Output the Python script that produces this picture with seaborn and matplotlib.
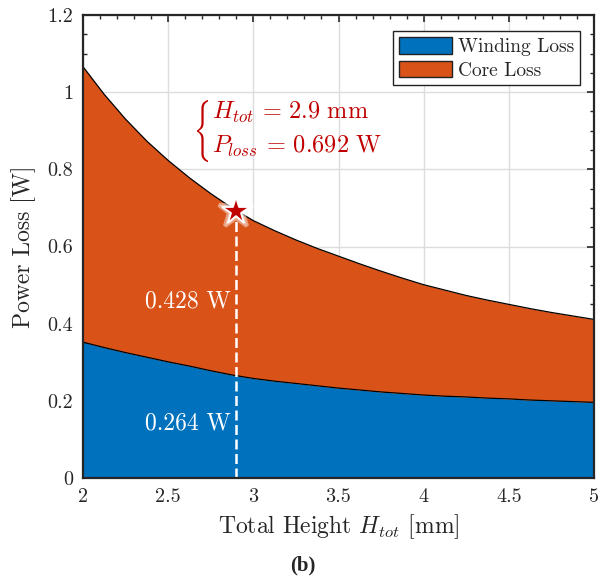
import numpy as np
import pandas as pd
import matplotlib
matplotlib.use("Agg")
import matplotlib.pyplot as plt
import matplotlib.transforms as mtransforms
import seaborn as sns
from matplotlib.ticker import MultipleLocator
from matplotlib.patches import Patch, PathPatch
from matplotlib.textpath import TextPath
from matplotlib.font_manager import FontProperties

# ---- data ----
height_mm = [2.0, 2.125, 2.25, 2.375, 2.5, 2.625, 2.75, 2.875, 3.0, 3.125, 3.25, 3.375,
             3.5, 3.625, 3.75, 3.875, 4.0, 4.125, 4.25, 4.375, 4.5, 4.625, 4.75, 4.875, 5.0]
total_loss = [1.066, 0.994, 0.930, 0.873, 0.823, 0.778, 0.737, 0.700, 0.667, 0.641, 0.617, 0.595,
              0.575, 0.555, 0.536, 0.518, 0.501, 0.487, 0.473, 0.461, 0.450, 0.439, 0.429, 0.420, 0.411]
winding_loss = [0.352, 0.338, 0.325, 0.313, 0.301, 0.290, 0.278, 0.267, 0.258, 0.251, 0.245, 0.239,
                0.233, 0.228, 0.223, 0.219, 0.215, 0.212, 0.210, 0.207, 0.205, 0.202, 0.200, 0.198, 0.196]
series_names = ["Winding Loss", "Core Loss"]
sel_height = 2.9
sel_total = 0.692
sel_winding = 0.264
sel_core = 0.428
xtick_vals = [2, 2.5, 3, 3.5, 4, 4.5, 5]
xtick_labels = ["2", "2.5", "3", "3.5", "4", "4.5", "5"]
ytick_vals = [0, 0.2, 0.4, 0.6, 0.8, 1.0, 1.2]
ytick_labels = ["0", "0.2", "0.4", "0.6", "0.8", "1", "1.2"]

df = pd.DataFrame({"H": height_mm, "total": total_loss, "winding": winding_loss})
df["core"] = df["total"] - df["winding"]

BLUE = "#0072BD"
ORANGE = "#D95319"
RED = "#C00000"
DARK = "#262626"

sns.set_theme(style="ticks")
plt.rcParams.update({
    "font.family": "serif",
    "font.serif": ["cmr10"],
    "mathtext.fontset": "cm",
    "axes.formatter.use_mathtext": True,
    "axes.unicode_minus": False,
})

W, H = 613, 584
fig = plt.figure(figsize=(W / 100, H / 100), dpi=100)
ax = fig.add_axes([83 / W, 1 - 478 / H, (594 - 83) / W, (478 - 15) / H])

ax.fill_between(df["H"], 0, df["winding"], color=BLUE, lw=0, zorder=2)
ax.fill_between(df["H"], df["winding"], df["winding"] + df["core"], color=ORANGE, lw=0, zorder=2)
sns.lineplot(x="H", y="winding", data=df, ax=ax, color="black", lw=0.9, zorder=3)
sns.lineplot(x="H", y="total", data=df, ax=ax, color="black", lw=0.9, zorder=3)

# selected design
ax.plot([sel_height, sel_height], [0, sel_total], color="white", lw=1.8,
        dashes=(4, 1.8), zorder=4)
ax.plot([sel_height], [sel_total], marker="*", ms=26, color="white", alpha=0.45,
        mec="white", mew=3, zorder=5, ls="none")
ax.plot([sel_height], [sel_total], marker="*", ms=20.5, color=RED,
        mec="white", mew=1.3, zorder=6, ls="none")

ax.text(sel_height - 0.03, sel_winding + sel_core / 2 - 0.02, f"{sel_core:.3f} W",
        color="white", fontsize=17, ha="right", va="center", zorder=6)
ax.text(sel_height - 0.03, sel_winding / 2 + 0.01, f"{sel_winding:.3f} W",
        color="white", fontsize=17, ha="right", va="center", zorder=6)

# annotation: brace + two lines
ax.text(2.757, 0.930, r"$H_{tot}\,=\," + f"{sel_height}" + r"\ \mathrm{mm}$",
        color=RED, fontsize=17.5, ha="left", va="baseline", zorder=6)
ax.text(2.757, 0.842, r"$P_{loss}\,=\," + f"{sel_total}" + r"\ \mathrm{W}$",
        color=RED, fontsize=17.5, ha="left", va="baseline", zorder=6)
brace = TextPath((0, 0), r"$\{$", size=1, prop=FontProperties(family="DejaVu Serif"))
ext = brace.get_extents()
bx0, by_top, bw, bh = 197, 100, 11, 62
tr = (mtransforms.Affine2D().translate(-ext.x0, -ext.y0)
      .scale(bw / ext.width, bh / ext.height)
      .translate(bx0, H - (by_top + bh)))
fig.add_artist(PathPatch(brace, transform=tr, facecolor=RED, edgecolor="none"))

ax.set_xlim(2, 5)
ax.set_ylim(0, 1.2)
ax.set_xticks(xtick_vals)
ax.set_xticklabels(xtick_labels)
ax.set_yticks(ytick_vals)
ax.set_yticklabels(ytick_labels)
ax.xaxis.set_minor_locator(MultipleLocator(0.1))
ax.yaxis.set_minor_locator(MultipleLocator(0.05))
ax.tick_params(which="both", direction="in", top=True, right=True, colors=DARK,
               labelcolor=DARK)
ax.tick_params(which="major", length=5, width=1.2, labelsize=14.5, pad=7)
ax.tick_params(which="minor", length=3, width=1.0)
ax.grid(True, which="major", color="#dcdcdc", lw=1.0)
ax.set_axisbelow(True)
for s in ax.spines.values():
    s.set_linewidth(1.6)
    s.set_color(DARK)
    s.set_zorder(10)

ax.set_xlabel(r"Total Height $H_{tot}$ [mm]", fontsize=17, color=DARK, labelpad=5)
ax.set_ylabel("Power Loss [W]", fontsize=17, color=DARK, labelpad=8)

handles = [Patch(facecolor=BLUE, edgecolor="#222222", lw=1.0),
           Patch(facecolor=ORANGE, edgecolor="#222222", lw=1.0)]
leg = ax.legend(handles, series_names, loc="upper right",
                bbox_to_anchor=((580 - 83) / 511, (478 - 31) / 463),
                borderaxespad=0, fontsize=14, frameon=True, fancybox=False,
                edgecolor="#222222", framealpha=1, handlelength=2.7, handleheight=0.95,
                handletextpad=0.32, borderpad=0.3, labelspacing=0.24)
leg.get_frame().set_linewidth(1.0)

fig.text(303 / W, 1 - 565 / H, "(b)", fontsize=15, fontweight="bold",
         family="Liberation Serif", ha="center", va="center")

fig.savefig("out.png", dpi=100)
